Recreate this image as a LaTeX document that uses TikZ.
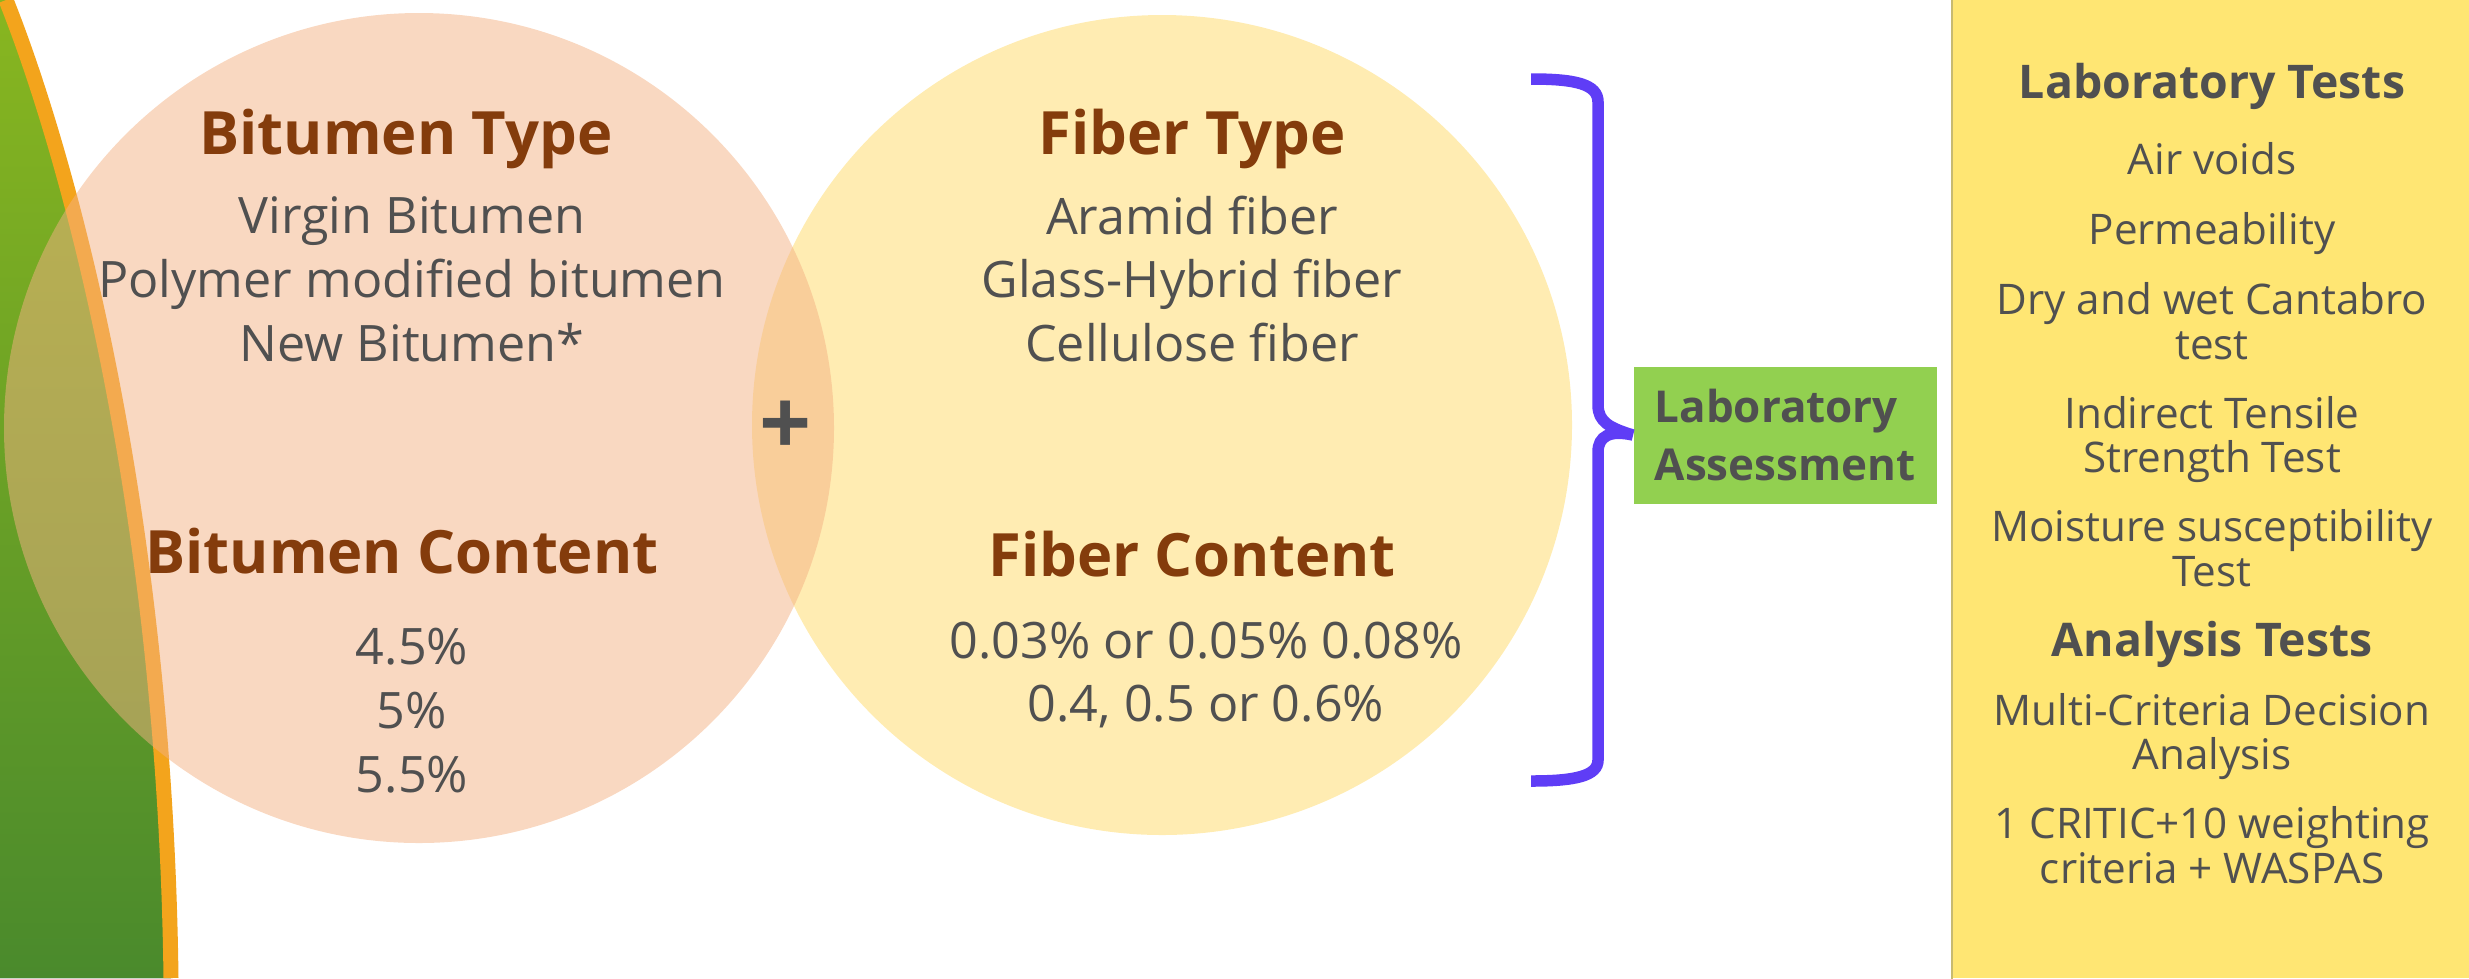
\documentclass[tikz,border=0pt]{standalone}
\usepackage{fontspec}
\setmainfont{Open Sans}
\usetikzlibrary{positioning}

\definecolor{headbrown}{HTML}{843C0C}
\definecolor{txtgray}{HTML}{505050}
\definecolor{peach}{HTML}{F4B183}
\definecolor{sand}{HTML}{FFD966}
\definecolor{bracepurple}{HTML}{5F3DF6}
\definecolor{labgreen}{HTML}{92D050}
\definecolor{panelyellow}{HTML}{FFE673}
\definecolor{paneledge}{HTML}{C8BA70}
\definecolor{swooshorange}{HTML}{F3A41C}
\definecolor{leaftop}{HTML}{88B620}
\definecolor{leafbot}{HTML}{4A8A2C}

\tikzset{venn/.style={circle, inner sep=0pt, fill opacity=0.5}}
\tikzset{head/.style={font=\fontsize{17}{20}\selectfont\bfseries, text=headbrown}}
\tikzset{items/.style={font=\fontsize{14.3}{18.2}\selectfont, text=txtgray, align=center}}
\tikzset{tests/.style={font=\fontsize{12}{12.6}\selectfont, text=txtgray, align=center}}
\tikzset{testhead/.style={font=\fontsize{13.2}{15}\selectfont\bfseries, text=txtgray}}

\begin{document}
\begin{tikzpicture}[]
    \useasboundingbox (0,0) rectangle (24.69,-9.78);

    \fill[top color=leaftop, bottom color=leafbot] (0,0) -- (0.06,0) .. controls (0.66,-1.50) and (1.65,-5.00) .. (1.71,-9.78) -- (0,-9.78) -- cycle;
    \draw[swooshorange, line width=0.15cm] (0.06,0) .. controls (0.66,-1.50) and (1.65,-5.00) .. (1.71,-9.78);

    \node[venn, fill=sand, minimum size=8.2cm] (fiber) at (11.62,-4.25) {};
    \node[venn, fill=peach, minimum size=8.3cm] (bitumen) at (4.19,-4.28) {};

    \node[head] (btype) at ([yshift=2.89cm, xshift=-0.13cm] bitumen.center) {Bitumen Type};
    \node[items] (blist) at ([yshift=1.49cm, xshift=-0.07cm] bitumen.center) {Virgin Bitumen\\Polymer modified bitumen\\New Bitumen*};
    \node[head] (bcontent) at ([yshift=-1.23cm, xshift=-0.17cm] bitumen.center) {Bitumen Content};
    \node[items] (bvalues) at ([yshift=-2.83cm, xshift=-0.07cm] bitumen.center) {4.5\%\\5\%\\5.5\%};

    \node[head] (ftype) at ([yshift=2.86cm, xshift=0.30cm] fiber.center) {Fiber Type};
    \node[items] (flist) at ([yshift=1.46cm, xshift=0.30cm] fiber.center) {Aramid fiber\\Glass-Hybrid fiber\\Cellulose fiber};
    \node[head] (fcontent) at ([yshift=-1.29cm, xshift=0.30cm] fiber.center) {Fiber Content};
    \node[items, font=\fontsize{14.3}{18}\selectfont] (fvalues) at ([yshift=-2.50cm, xshift=0.44cm] fiber.center) {0.03\% or 0.05\% 0.08\%\\0.4, 0.5 or 0.6\%};

    \node[font=\fontsize{26}{26}\selectfont\bfseries, text=txtgray] (plus) at (7.86,-4.28) {+};

    \node[fill=labgreen, minimum width=3.03cm, minimum height=1.37cm, align=left, text=txtgray, font=\fontsize{12.5}{16.5}\selectfont\bfseries] (lab) at (17.85,-4.35) {Laboratory\\Assessment};

    \coordinate (bracetop) at (15.31,-0.79);
    \coordinate (bracebot) at (15.31,-7.81);
    \draw[bracepurple, line width=0.115cm] (bracetop) .. controls (15.75,-0.79) and (15.98,-0.84) .. (15.98,-1.02) -- (15.98,-4.05) .. controls (15.98,-4.22) and (16.10,-4.28) .. (lab.west) .. controls (16.10,-4.30) and (15.98,-4.36) .. (15.98,-4.52) -- (15.98,-7.60) .. controls (15.98,-7.76) and (15.75,-7.81) .. (bracebot);

    \node[fill=panelyellow, minimum width=5.16cm, minimum height=9.78cm, inner sep=0pt] (panel) at (22.11,-4.89) {};
    \draw[paneledge, line width=0.02cm] (panel.north west) -- (panel.south west);

    \node[testhead] (labtests) at ([yshift=-0.87cm, xshift=0.01cm] panel.north) {Laboratory Tests};
    \node[tests] (airvoids) at ([yshift=-1.59cm, xshift=0.01cm] panel.north) {Air voids};
    \node[tests] (perm) at ([yshift=-2.34cm, xshift=0.01cm] panel.north) {Permeability};
    \node[tests] (cantabro) at ([yshift=-3.22cm, xshift=0.01cm] panel.north) {Dry and wet Cantabro\\test};
    \node[tests] (itst) at ([yshift=-4.40cm, xshift=0.01cm] panel.north) {Indirect Tensile\\Strength Test};
    \node[tests] (moist) at ([yshift=-5.49cm, xshift=0.01cm] panel.north) {Moisture susceptibility\\Test};
    \node[testhead] (anatests) at ([yshift=-6.45cm, xshift=0.01cm] panel.north) {Analysis Tests};
    \node[tests] (mcda) at ([yshift=-7.37cm, xshift=0.01cm] panel.north) {Multi-Criteria Decision\\Analysis};
    \node[tests] (critic) at ([yshift=-8.46cm, xshift=0.01cm] panel.north) {1 CRITIC+10 weighting\\criteria + WASPAS};

\end{tikzpicture}
\end{document}
